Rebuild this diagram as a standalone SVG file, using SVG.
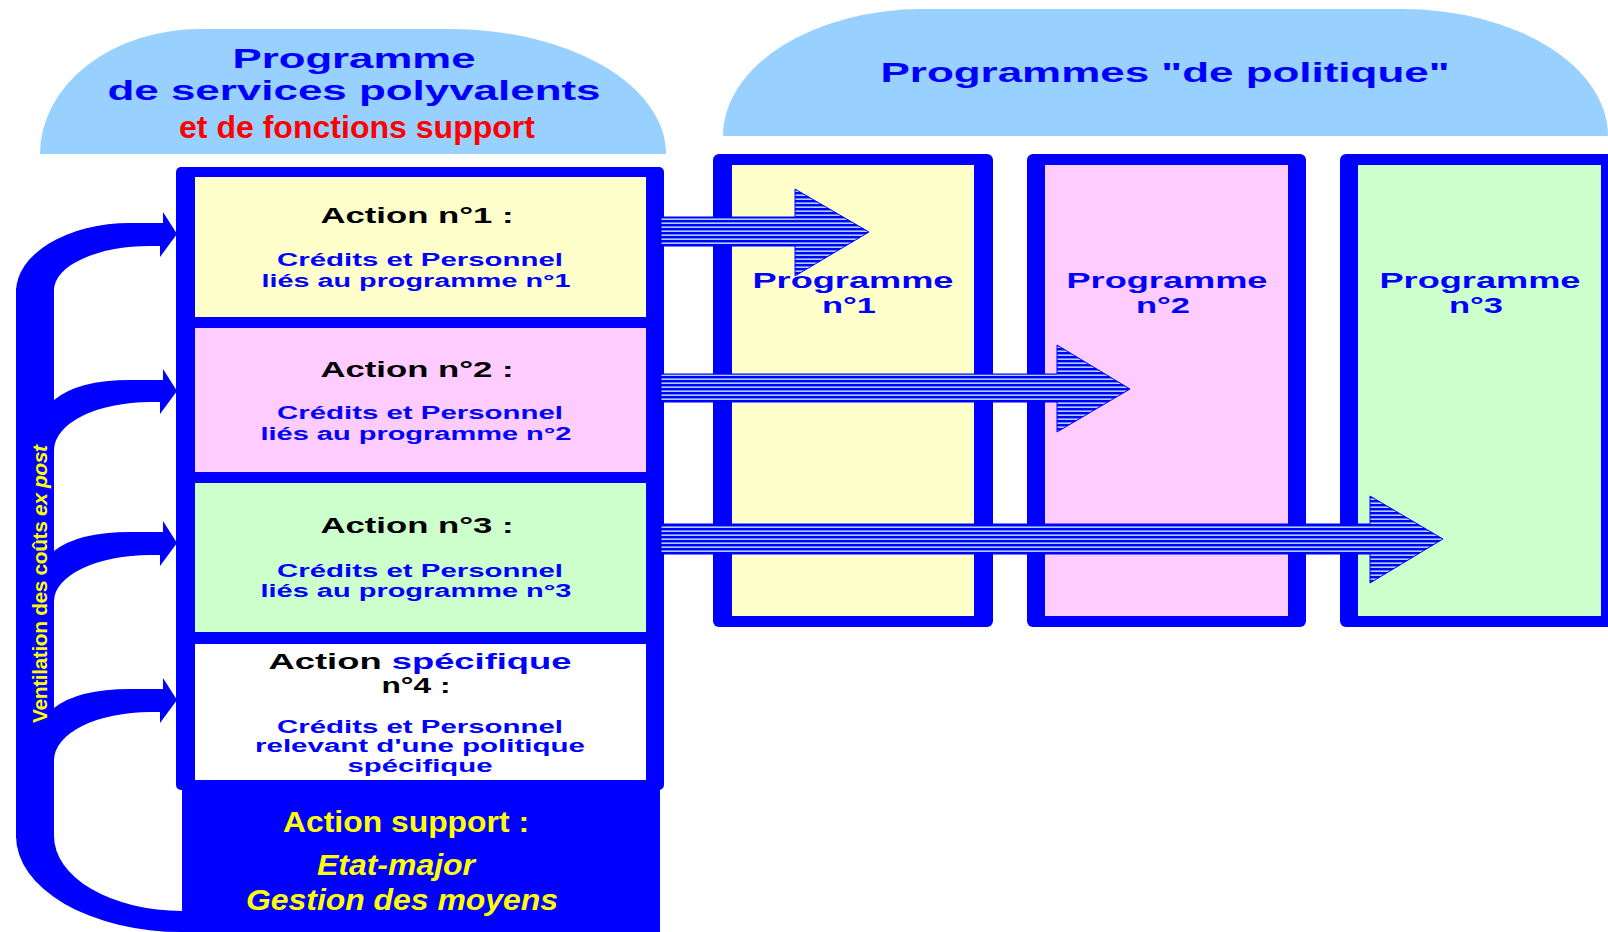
<svg xmlns="http://www.w3.org/2000/svg" width="1608" height="932" viewBox="0 0 1608 932">
<defs>
<pattern id="hatch" patternUnits="userSpaceOnUse" x="0" y="0" width="10" height="4">
<rect x="0" y="0" width="10" height="4" fill="#0000FF"/>
<rect x="0" y="2.4" width="10" height="1.6" fill="#A8D4FF"/>
</pattern>
<style>
.cap{fill:#98D0FF}
.blue{fill:#0000FF}
.t{font-family:"Liberation Sans",Arial,sans-serif;font-weight:bold;text-anchor:middle}
.title{font-size:28px;fill:#0000FF}
.red{font-size:32px;fill:#FF0000}
.act{font-size:22px;fill:#000000}
.sub{font-size:17.5px;fill:#0000FF}
.prog{font-size:22px;fill:#0000FF}
.sup{font-size:30px;fill:#FFFF00}
.it{font-style:italic}
.vt{font-size:21px;fill:#FFFF00}
.hatch{fill:url(#hatch);stroke:#0000FF;stroke-width:1}
</style>
</defs>
<rect width="1608" height="932" fill="#FFFFFF"/>

<g id="cap-left">
<path class="cap" d="M40,154 A160,125 0 0 1 200,29 L450,29 A216,125 0 0 1 666,154 Z"/>
<text class="t title" x="354" y="68" textLength="243" lengthAdjust="spacingAndGlyphs">Programme</text>
<text class="t title" x="354" y="100" textLength="493" lengthAdjust="spacingAndGlyphs">de services polyvalents</text>
<text class="t red" x="357" y="138" textLength="356" lengthAdjust="spacingAndGlyphs">et de fonctions support</text>
</g>

<g id="cap-right">
<path class="cap" d="M723,136 A200,127 0 0 1 923,9 L1402,9 A206,127 0 0 1 1608,136 Z"/>
<text class="t title" x="1165" y="82" textLength="569" lengthAdjust="spacingAndGlyphs">Programmes "de politique"</text>
</g>

<g id="programme-1">
<rect class="blue" x="713" y="154" width="280" height="473" rx="6"/>
<rect x="732" y="165" width="242" height="451" fill="#FFFFCC"/>
<text class="t prog" x="853" y="288" textLength="201" lengthAdjust="spacingAndGlyphs">Programme</text>
<text class="t prog" x="849" y="313" textLength="54" lengthAdjust="spacingAndGlyphs">n°1</text>
</g>
<g id="programme-2">
<rect class="blue" x="1027" y="154" width="279" height="473" rx="6"/>
<rect x="1045" y="165" width="243" height="451" fill="#FFCCFF"/>
<text class="t prog" x="1167" y="288" textLength="201" lengthAdjust="spacingAndGlyphs">Programme</text>
<text class="t prog" x="1163" y="313" textLength="54" lengthAdjust="spacingAndGlyphs">n°2</text>
</g>
<g id="programme-3">
<rect class="blue" x="1340" y="154" width="280" height="473" rx="6"/>
<rect x="1358" y="165" width="243" height="451" fill="#CCFFCC"/>
<text class="t prog" x="1480" y="288" textLength="201" lengthAdjust="spacingAndGlyphs">Programme</text>
<text class="t prog" x="1476" y="313" textLength="54" lengthAdjust="spacingAndGlyphs">n°3</text>
</g>

<g id="container">
<rect class="blue" x="176" y="167" width="488" height="623" rx="5"/>
</g>

<g id="action-1">
<rect x="195" y="177" width="451" height="140" fill="#FFFFCC"/>
<text class="t act" x="417" y="223" textLength="193" lengthAdjust="spacingAndGlyphs">Action n°1 :</text>
<text class="t sub" x="420" y="266" textLength="286" lengthAdjust="spacingAndGlyphs">Crédits et Personnel</text>
<text class="t sub" x="416" y="287" textLength="309" lengthAdjust="spacingAndGlyphs">liés au programme n°1</text>
</g>
<g id="action-2">
<rect x="195" y="328" width="451" height="144" fill="#FFCCFF"/>
<text class="t act" x="417" y="377" textLength="193" lengthAdjust="spacingAndGlyphs">Action n°2 :</text>
<text class="t sub" x="420" y="419" textLength="286" lengthAdjust="spacingAndGlyphs">Crédits et Personnel</text>
<text class="t sub" x="416" y="440" textLength="311" lengthAdjust="spacingAndGlyphs">liés au programme n°2</text>
</g>
<g id="action-3">
<rect x="195" y="483" width="451" height="149" fill="#CCFFCC"/>
<text class="t act" x="417" y="533" textLength="193" lengthAdjust="spacingAndGlyphs">Action n°3 :</text>
<text class="t sub" x="420" y="577" textLength="286" lengthAdjust="spacingAndGlyphs">Crédits et Personnel</text>
<text class="t sub" x="416" y="597" textLength="311" lengthAdjust="spacingAndGlyphs">liés au programme n°3</text>
</g>
<g id="action-4">
<rect x="195" y="644" width="451" height="136" fill="#FFFFFF"/>
<text class="t act" x="420" y="669" textLength="303" lengthAdjust="spacingAndGlyphs">Action <tspan fill="#0000FF">spécifique</tspan></text>
<text class="t act" x="416" y="693" textLength="69" lengthAdjust="spacingAndGlyphs">n°4 :</text>
<text class="t sub" x="420" y="733" textLength="286" lengthAdjust="spacingAndGlyphs">Crédits et Personnel</text>
<text class="t sub" x="420" y="752" textLength="330" lengthAdjust="spacingAndGlyphs">relevant d'une politique</text>
<text class="t sub" x="420" y="772" textLength="145" lengthAdjust="spacingAndGlyphs">spécifique</text>
</g>

<g id="action-support">
<rect class="blue" x="182" y="780" width="478" height="152"/>
<text class="t sup" x="406" y="832" textLength="246" lengthAdjust="spacingAndGlyphs">Action support :</text>
<text class="t sup it" x="396" y="875" textLength="158" lengthAdjust="spacingAndGlyphs">Etat-major</text>
<text class="t sup it" x="402" y="910" textLength="312" lengthAdjust="spacingAndGlyphs">Gestion des moyens</text>
</g>

<g id="ventilation">
<rect class="blue" x="16" y="288" width="38" height="550"/>
<text class="t vt" transform="translate(47,584) rotate(-90)" textLength="278" lengthAdjust="spacing">Ventilation des coûts <tspan class="it">ex post</tspan></text>
</g>

<g id="connectors">
<path class="blue" d="M16,292 A114,69 0 0 1 130,223 H163 V212 L177,234 L160,257 V246 H150 A96,44 0 0 0 54,290 V300 H16 Z"/>
<path class="blue" d="M54,400 Q78,380 130,380 H163 V369 L177,391 L160,414 V402 H150 A96,48 0 0 0 54,450 Z"/>
<path class="blue" d="M54,551 Q78,532 130,532 H163 V521 L177,543 L160,566 V555 H150 A96,46 0 0 0 54,601 Z"/>
<path class="blue" d="M54,708 Q78,689 130,689 H163 V678 L177,700 L160,723 V712 H150 A96,48 0 0 0 54,760 Z"/>
<path class="blue" d="M16,836 A166,96 0 0 0 182,932 V911 A128,75 0 0 1 54,836 Z"/>
<path class="hatch" d="M661,217 H795 V189 L869,232 L795,276 V246 H661 Z"/>
<path class="hatch" d="M661,374 H1057 V345 L1130,389 L1057,432 V402 H661 Z"/>
<path class="hatch" d="M661,524 H1370 V496 L1443,539 L1370,583 V554 H661 Z"/>
</g>
</svg>
